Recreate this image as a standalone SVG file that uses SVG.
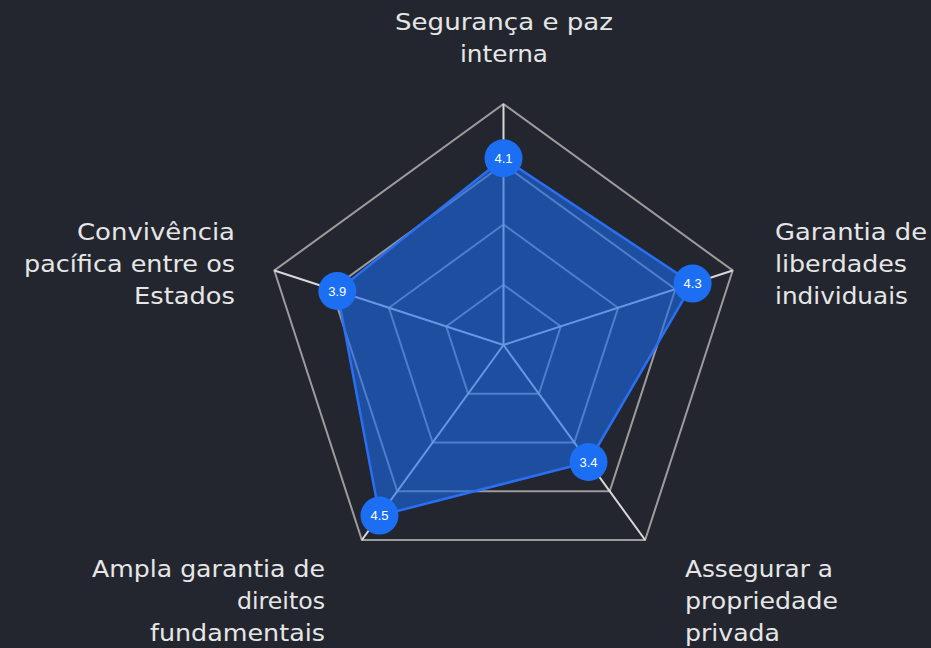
<svg xmlns="http://www.w3.org/2000/svg" width="931" height="648" viewBox="0 0 931 648">
<style>
.ring{fill:none;stroke:#9c9c9c;stroke-width:2}
.axis{stroke:#d8d8d8;stroke-width:2}
.area{fill:#1b69eb;fill-opacity:0.6;stroke:#2a6ff2;stroke-width:2.5;stroke-linejoin:round}
.dot{fill:#1c6ef2}
.val{font-family:"Liberation Sans",Arial,sans-serif;font-size:13px;fill:#ffffff;text-anchor:middle}
.lbl{font-family:"DejaVu Sans","Liberation Sans",sans-serif;font-size:23px;fill:#e6e6e6}
.end{text-anchor:end}
.mid{text-anchor:middle}
</style>
<rect width="931" height="648" fill="#23262f"/>
<g id="grid">
<polygon class="ring" points="503.5,284.75 560.8,326.38 538.91,393.74 468.09,393.74 446.2,326.38"/>
<polygon class="ring" points="503.5,224.5 618.1,307.76 574.33,442.49 432.67,442.49 388.9,307.76"/>
<polygon class="ring" points="503.5,164.25 675.4,289.14 609.74,491.23 397.26,491.23 331.6,289.14"/>
<polygon class="ring" points="503.5,104 732.7,270.5 645.15,539.97 361.85,539.97 274.3,270.5"/>
<line class="axis" x1="503.5" y1="345" x2="503.5" y2="104"/>
<line class="axis" x1="503.5" y1="345" x2="732.7" y2="270.5"/>
<line class="axis" x1="503.5" y1="345" x2="645.15" y2="539.97"/>
<line class="axis" x1="503.5" y1="345" x2="361.85" y2="539.97"/>
<line class="axis" x1="503.5" y1="345" x2="274.3" y2="270.5"/>
</g>
<g id="connectors">
<polygon class="area" points="503.5,158.2 692.6,283.6 588.5,462 379.5,515.6 337.3,291"/>
</g>
<g id="p-seguranca"><circle class="dot" cx="503.5" cy="158.2" r="19"/><text class="val" x="503.5" y="162.8">4.1</text></g>
<g id="p-liberdades"><circle class="dot" cx="692.6" cy="283.6" r="19"/><text class="val" x="692.6" y="288.2">4.3</text></g>
<g id="p-propriedade"><circle class="dot" cx="588.5" cy="462" r="19"/><text class="val" x="588.5" y="466.6">3.4</text></g>
<g id="p-direitos"><circle class="dot" cx="379.5" cy="515.6" r="19"/><text class="val" x="379.5" y="520.2">4.5</text></g>
<g id="p-convivencia"><circle class="dot" cx="337.3" cy="291" r="19"/><text class="val" x="337.3" y="295.6">3.9</text></g>
<g id="l-seguranca" class="lbl">
<text class="mid" x="504" y="30" textLength="218" lengthAdjust="spacingAndGlyphs">Segurança e paz</text>
<text class="mid" x="504" y="62" textLength="88" lengthAdjust="spacingAndGlyphs">interna</text>
</g>
<g id="l-liberdades" class="lbl">
<text x="775" y="240" textLength="152" lengthAdjust="spacingAndGlyphs">Garantia de</text>
<text x="775" y="272" textLength="132" lengthAdjust="spacingAndGlyphs">liberdades</text>
<text x="775" y="304" textLength="133" lengthAdjust="spacingAndGlyphs">individuais</text>
</g>
<g id="l-propriedade" class="lbl">
<text x="685" y="577" textLength="148" lengthAdjust="spacingAndGlyphs">Assegurar a</text>
<text x="685" y="609" textLength="153" lengthAdjust="spacingAndGlyphs">propriedade</text>
<text x="685" y="641" textLength="95" lengthAdjust="spacingAndGlyphs">privada</text>
</g>
<g id="l-direitos" class="lbl">
<text class="end" x="325" y="577" textLength="233" lengthAdjust="spacingAndGlyphs">Ampla garantia de</text>
<text class="end" x="325" y="609" textLength="88" lengthAdjust="spacingAndGlyphs">direitos</text>
<text class="end" x="325" y="641" textLength="175" lengthAdjust="spacingAndGlyphs">fundamentais</text>
</g>
<g id="l-convivencia" class="lbl">
<text class="end" x="235" y="240" textLength="158" lengthAdjust="spacingAndGlyphs">Convivência</text>
<text class="end" x="235" y="272" textLength="211" lengthAdjust="spacingAndGlyphs">pacífica entre os</text>
<text class="end" x="235" y="304" textLength="101" lengthAdjust="spacingAndGlyphs">Estados</text>
</g>
</svg>
